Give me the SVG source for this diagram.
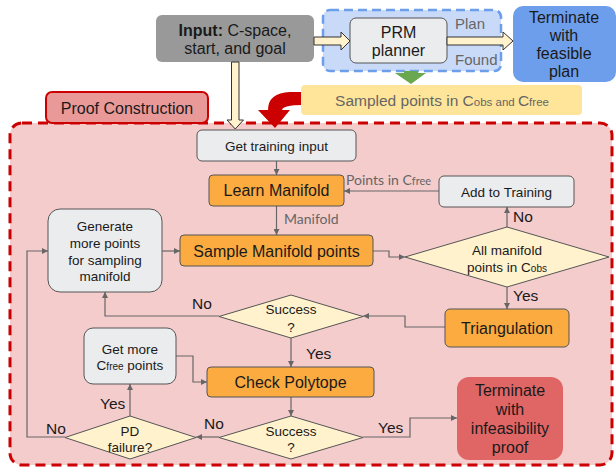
<svg xmlns="http://www.w3.org/2000/svg" width="616" height="470" viewBox="0 0 616 470">
<style>
text{font-family:"Liberation Sans",Arial,sans-serif;fill:#1a1a1a;}
.t16{font-size:16px;text-anchor:middle;}
.t13{font-size:13.5px;text-anchor:middle;}
.lbl{font-size:15.5px;}
.grey{fill:#666;}
.lato{font-family:Lato,"Liberation Sans",sans-serif;font-size:14px;fill:#666;}
.gbox{fill:#eaecee;stroke:#555;stroke-width:1;}
.obox{fill:#fbab40;stroke:#555;stroke-width:1;}
.dia{fill:#fff2cc;stroke:#555;stroke-width:1;}
.conn{fill:none;stroke:#666;stroke-width:1.2;marker-end:url(#ah);}
.fat{fill:#fff2cc;stroke:#333;stroke-width:1;}
</style>
<defs>
<marker id="ah" viewBox="0 0 10 10" refX="10" refY="5" markerWidth="6" markerHeight="6" markerUnits="userSpaceOnUse" orient="auto">
<path d="M0,0 L10,5 L0,10 Z" fill="#666"/>
</marker>
</defs>
<rect width="616" height="470" fill="#fff"/>

<!-- Proof construction region -->
<g id="proof-region">
<rect x="10" y="123" width="602" height="342" rx="12" fill="#f4cccc" stroke="#cc0000" stroke-width="3" stroke-dasharray="10 6"/>
</g>
<g id="proof-label">
<rect x="46" y="92" width="162" height="31" rx="6" fill="#ea9999" stroke="#cc0000" stroke-width="2"/>
<text class="t16" x="127" y="113.5">Proof Construction</text>
</g>

<!-- top row -->
<g id="input">
<rect x="156" y="15" width="158" height="47" rx="6" fill="#999"/>
<text class="t16" x="235" y="35.5"><tspan font-weight="bold">Input:</tspan> C-space,</text>
<text class="t16" x="235" y="53.5">start, and goal</text>
</g>
<g id="prm-region">
<rect x="323" y="10" width="178" height="61" rx="7" fill="#c9daf8" stroke="#6d9eeb" stroke-width="2.5" stroke-dasharray="9 5"/>
<text class="grey" x="455" y="29" font-size="15">Plan</text>
<text class="grey" x="455" y="65" font-size="15">Found</text>
</g>
<g id="prm">
<rect x="350" y="18" width="97" height="45" rx="6" class="gbox"/>
<text class="t16" x="398.5" y="37.5">PRM</text>
<text class="t16" x="398.5" y="55.5">planner</text>
</g>
<g id="terminate-feasible">
<rect x="513" y="6" width="103" height="76" rx="10" fill="#6d9eeb"/>
<text class="t16" x="564" y="23">Terminate</text>
<text class="t16" x="564" y="41">with</text>
<text class="t16" x="564" y="59">feasible</text>
<text class="t16" x="564" y="77">plan</text>
</g>
<g id="red-arrow">
<path d="M303,92 L290,92 Q268,93 268,110 L258,110 L275,128 L290,110 L282,110 Q283,105 303,105 Z" fill="#cc0000"/>
</g>
<g id="sampled">
<rect x="301" y="85" width="281" height="30" rx="4" fill="#ffe599"/>
<text x="442" y="105.5" text-anchor="middle" font-size="15.5" class="grey">Sampled points in C<tspan font-size="11.5">obs and </tspan>C<tspan font-size="11.5">free</tspan></text>
</g>
<g id="green-arrow">
<polygon points="404,71 418,71 418,73 426,73 411,84 395,73 404,73" fill="#6aa84f"/>
</g>

<!-- fat arrows -->
<g id="fat-arrows">
<polygon class="fat" points="314,37 341,37 341,32 350,41 341,50 341,45 314,45"/>
<polygon class="fat" points="447,37 503,37 503,32 513,41 503,50 503,45 447,45"/>
<polygon class="fat" points="231.5,62 239,62 239,120 243.5,120 235.25,129 227,120 231.5,120"/>
</g>

<!-- connectors -->
<g id="connectors">
<path class="conn" d="M276.5,161 V175"/>
<path class="conn" d="M439,191 H344"/>
<path class="conn" d="M276.5,206 V235"/>
<path class="conn" d="M507,227 V207"/>
<path class="conn" d="M373,251 H389 V257 H405"/>
<path class="conn" d="M162,251 H180"/>
<path class="conn" d="M507,287 V309"/>
<path class="conn" d="M445,327 H405 V316 H363"/>
<path class="conn" d="M219,316 H105 V292"/>
<path class="conn" d="M291,338 V367"/>
<path class="conn" d="M176,356 H193 V382 H207"/>
<path class="conn" d="M291,397 V416"/>
<path class="conn" d="M219,437 H196"/>
<path class="conn" d="M130,416 V384"/>
<path class="conn" d="M65,437 H27 V251 H48"/>
<path class="conn" d="M363,437 H410 V418 H457"/>
</g>

<!-- nodes in proof region -->
<g id="get-training">
<rect x="197" y="130" width="159" height="31" rx="5" class="gbox"/>
<text class="t13" x="276.5" y="150.5">Get training input</text>
</g>
<g id="learn-manifold">
<rect x="209" y="175" width="135" height="31" rx="4" class="obox"/>
<text class="t16" x="276.5" y="196">Learn Manifold</text>
</g>
<g id="add-training">
<rect x="439" y="176" width="135" height="31" rx="5" class="gbox"/>
<text class="t13" x="506.5" y="196.5">Add to Training</text>
</g>
<text class="lato" x="346" y="185">Points in C<tspan font-size="11">free</tspan></text>
<text class="lato" x="284" y="224">Manifold</text>
<g id="generate">
<rect x="48" y="209" width="114" height="83" rx="12" class="gbox"/>
<text class="t13" x="105" y="231">Generate</text>
<text class="t13" x="105" y="248">more points</text>
<text class="t13" x="105" y="264.5">for sampling</text>
<text class="t13" x="105" y="281">manifold</text>
</g>
<g id="sample-manifold">
<rect x="180" y="235" width="193" height="31" rx="4" class="obox"/>
<text class="t16" x="276.5" y="256.5">Sample Manifold points</text>
</g>
<g id="all-in-cobs">
<polygon class="dia" points="507,227 609,257 507,287 405,257"/>
<text class="t13" x="507" y="255">All manifold</text>
<text class="t13" x="507" y="272">points in C<tspan font-size="10">obs</tspan></text>
</g>
<text class="lbl" x="513" y="222">No</text>
<text class="lbl" x="513" y="300.5">Yes</text>
<g id="triangulation">
<rect x="445" y="309" width="124" height="38" rx="5" class="obox"/>
<text class="t16" x="507" y="333.5">Triangulation</text>
</g>
<g id="success1">
<polygon class="dia" points="291,295 363,316.5 291,338 219,316.5"/>
<text class="t13" x="291" y="314">Success</text>
<text class="t13" x="291" y="332">?</text>
</g>
<text class="lbl" x="192" y="309">No</text>
<text class="lbl" x="306" y="358.5">Yes</text>
<g id="get-more">
<rect x="84" y="328" width="92" height="56" rx="9" class="gbox"/>
<text class="t13" x="130" y="354">Get more</text>
<text class="t13" x="130" y="370">C<tspan font-size="10">free</tspan> points</text>
</g>
<g id="check-polytope">
<rect x="207" y="367" width="167" height="30" rx="4" class="obox"/>
<text class="t16" x="290.5" y="387.5">Check Polytope</text>
</g>
<g id="success2">
<polygon class="dia" points="291,416 363,437.5 291,459 219,437.5"/>
<text class="t13" x="291" y="435.5">Success</text>
<text class="t13" x="291" y="451.5">?</text>
</g>
<text class="lbl" x="204" y="429">No</text>
<g id="pd-failure">
<polygon class="dia" points="130,416 196,437.5 130,459 65,437.5"/>
<text class="t13" x="130" y="435.5">PD</text>
<text class="t13" x="130" y="451.5">failure?</text>
</g>
<text class="lbl" x="100" y="408.5">Yes</text>
<text class="lbl" x="46" y="433.5">No</text>
<text class="lbl" x="378" y="432.5">Yes</text>
<g id="terminate-infeasible">
<rect x="457" y="377" width="106" height="83" rx="12" fill="#e06666"/>
<text class="t16" x="510" y="395.5">Terminate</text>
<text class="t16" x="510" y="414.5">with</text>
<text class="t16" x="510" y="433.5">infeasibility</text>
<text class="t16" x="510" y="452.5">proof</text>
</g>
</svg>
